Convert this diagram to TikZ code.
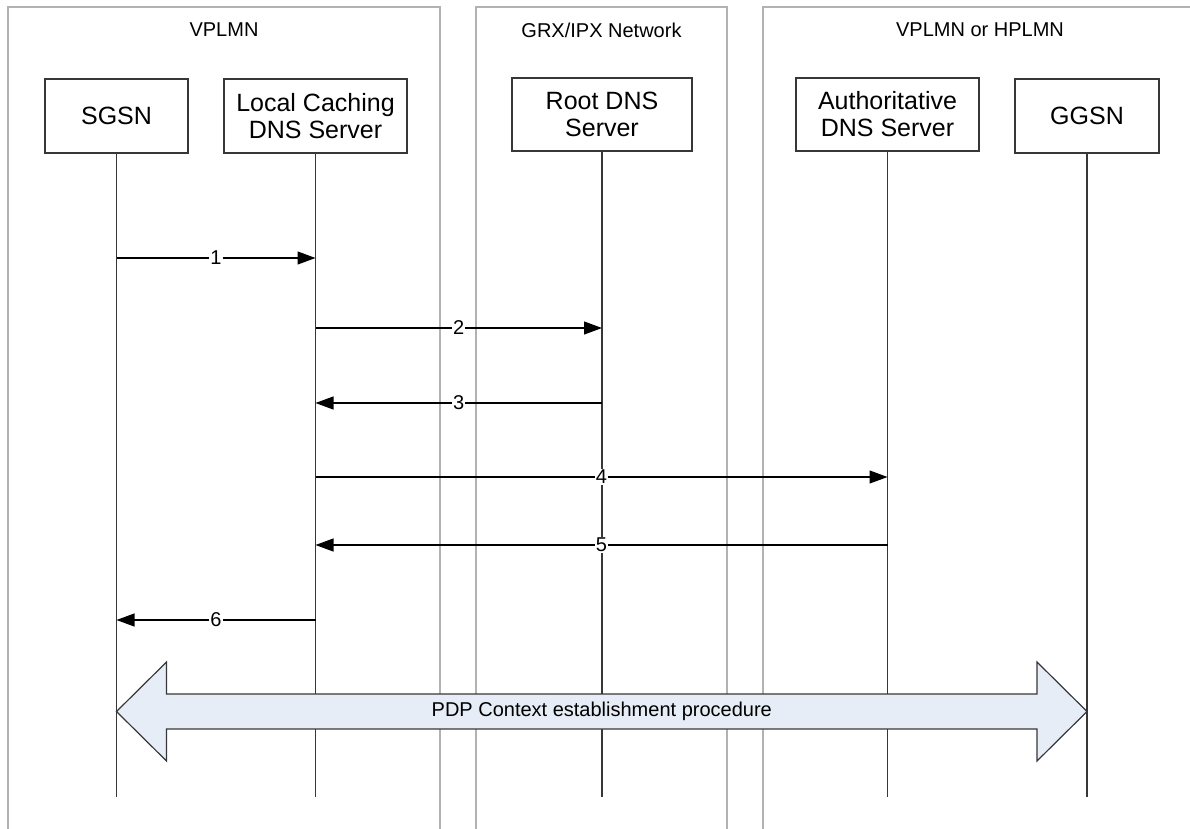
\documentclass[tikz,border=0pt]{standalone}
\usepackage{fontspec}
\setmainfont{Liberation Sans}
\usetikzlibrary{arrows.meta, calc}

\definecolor{zonegray}{RGB}{178,178,178}
\definecolor{linegray}{RGB}{55,55,55}
\definecolor{pdpblue}{RGB}{230,237,247}

\tikzset{
  entity/.style={draw=linegray, line width=1.2pt, fill=white, inner sep=0pt,
    align=center, font=\fontsize{25}{27}\selectfont},
  zone/.style={draw=zonegray, line width=1.5pt},
  life/.style={draw=linegray, line width=1.2pt},
  msg/.style={draw=black, line width=1.1pt, -{Triangle[length=18pt,width=13pt]}},
  msglabel/.style={fill=white, inner sep=1pt, font=\fontsize{20}{22}\selectfont},
  zonelabel/.style={inner sep=0pt, font=\fontsize{20}{22}\selectfont},
}

\begin{document}
\begin{tikzpicture}[x=1pt, y=-1pt]
        \clip (0,0) rectangle (1190,828);
        % Domaines
        \draw[zone] (8,840) -- (8,7) -- (440,7) -- (440,840);
        \draw[zone] (476,840) -- (476,7) -- (727,7) -- (727,840);
        \draw[zone] (763,840) -- (763,7) -- (1200,7) -- (1200,840);
        \node[zonelabel] (vplmn) at (224,30) {VPLMN};
        \node[zonelabel] (grx) at (601.5,30) {GRX/IPX Network};
        \node[zonelabel] (hplmn) at (980,30) {VPLMN or HPLMN};

        % Entites
        \node[entity, minimum width=143pt, minimum height=74pt] (sgsn) at (116.5,116) {SGSN};
        \node[entity, minimum width=183pt, minimum height=74pt] (cache) at (315.5,116) {Local Caching\\DNS Server};
        \node[entity, minimum width=180pt, minimum height=73pt] (root) at (602,114.5) {Root DNS\\Server};
        \node[entity, minimum width=183pt, minimum height=73pt] (auth) at (887.5,114.5) {Authoritative\\DNS Server};
        \node[entity, minimum width=144pt, minimum height=74pt] (ggsn) at (1087,116) {GGSN};

        % Lignes de vie
        \coordinate (bottom) at (0,797);
        \draw[life] (sgsn) -- (sgsn |- bottom);
        \draw[life] (cache) -- (cache |- bottom);
        \draw[life] (root) -- (root |- bottom);
        \draw[life] (auth) -- (auth |- bottom);
        \draw[life] (ggsn) -- (ggsn |- bottom);

        % Messages
        \coordinate (m1) at (0,258);
        \coordinate (m2) at (0,328);
        \coordinate (m3) at (0,403);
        \coordinate (m4) at (0,477);
        \coordinate (m5) at (0,545);
        \coordinate (m6) at (0,620);
        \draw[msg] (sgsn |- m1) -- node[msglabel] (l1) {1} (cache |- m1);
        \draw[msg] (cache |- m2) -- node[msglabel] (l2) {2} (root |- m2);
        \draw[msg] (root |- m3) -- node[msglabel] (l3) {3} (cache |- m3);
        \draw[msg] (cache |- m4) -- node[msglabel] (l4) {4} (auth |- m4);
        \draw[msg] (auth |- m5) -- node[msglabel] (l5) {5} (cache |- m5);
        \draw[msg] (cache |- m6) -- node[msglabel] (l6) {6} (sgsn |- m6);

        % Procedure PDP
        \coordinate (pdpy) at (0,711.5);
        \draw[draw=linegray, line width=1.2pt, fill=pdpblue, line join=miter]
          (sgsn |- pdpy) -- ++(50,-49.5) -- ++(0,32) -- ($(ggsn |- pdpy)+(-50,-17.5)$)
          -- ++(0,-32) -- (ggsn |- pdpy) -- ++(-50,49.5) -- ++(0,-32)
          -- ($(sgsn |- pdpy)+(50,17.5)$) -- ++(0,32) -- cycle;
        \node[msglabel, fill=none] (pdp) at ($(sgsn |- pdpy)!0.5!(ggsn |- pdpy)$) {PDP Context establishment procedure};
\end{tikzpicture}
\end{document}
